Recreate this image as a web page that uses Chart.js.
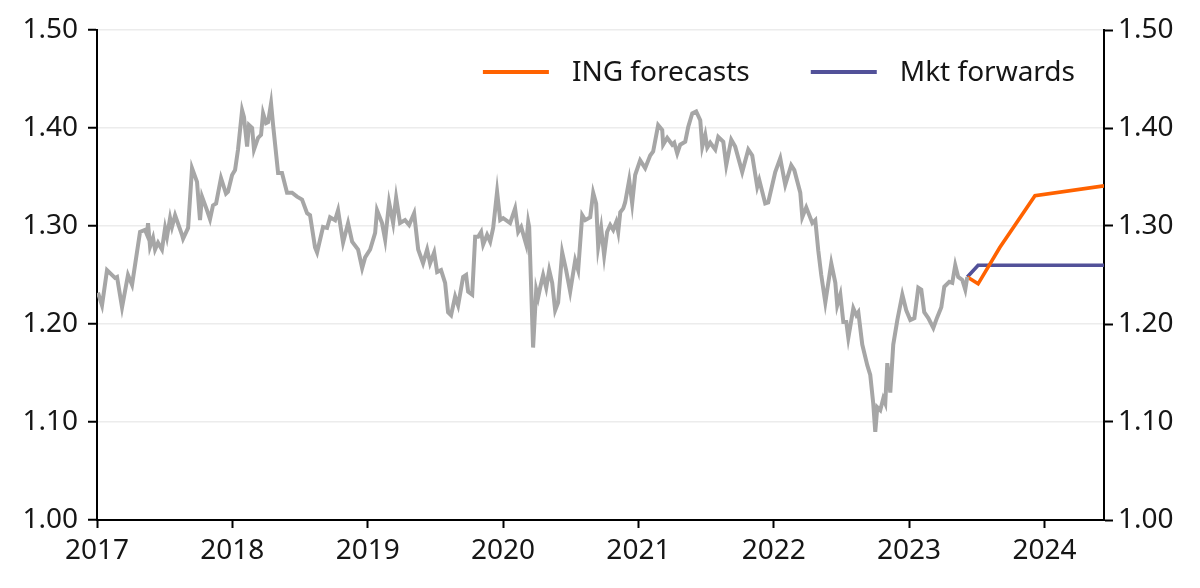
<!DOCTYPE html>
<html>
<head>
<meta charset="utf-8">
<script src="https://cdn.jsdelivr.net/npm/chart.js@4.4.0/dist/chart.umd.min.js"></script>
<style>
  html, body { margin: 0; padding: 0; background: #ffffff; }
  #wrap { position: relative; width: 1200px; height: 588px; }
</style>
</head>
<body>
<div id="wrap"><canvas id="c"></canvas></div>
<script>
// ---- Data (decimal years) ----
const spotDates = [
  2017.007,2017.037,2017.074,2017.133,2017.148,2017.185,2017.229,2017.259,2017.318,2017.355,
  2017.370,2017.377,2017.392,2017.414,2017.429,2017.451,2017.480,2017.503,2017.517,2017.540,
  2017.554,2017.577,2017.628,2017.636,2017.673,2017.702,2017.739,2017.761,2017.776,2017.813,
  2017.835,2017.857,2017.880,2017.916,2017.953,2017.968,2017.998,2018.020,2018.042,2018.072,
  2018.086,2018.109,2018.123,2018.146,2018.160,2018.190,2018.212,2018.227,2018.249,2018.264,
  2018.286,2018.301,2018.338,2018.367,2018.404,2018.441,
  2018.478,2018.515,2018.552,2018.574,2018.611,2018.626,2018.670,2018.700,2018.722,2018.759,
  2018.781,2018.818,2018.855,2018.885,2018.929,2018.959,2018.981,2019.018,2019.055,2019.069,
  2019.106,2019.129,2019.158,2019.188,2019.210,2019.239,2019.276,2019.306,2019.343,2019.373,
  2019.409,2019.439,2019.461,2019.491,2019.513,2019.542,2019.572,2019.594,2019.616,2019.646,
  2019.668,2019.705,2019.727,2019.742,2019.772,2019.794,2019.816,2019.838,2019.853,2019.882,
  2019.905,2019.927,2019.956,2019.979,2020.001,2020.052,2020.089,2020.112,2020.134,2020.171,
  2020.186,2020.193,2020.222,2020.245,2020.259,2020.274,2020.296,2020.319,2020.341,2020.363,
  2020.385,2020.407,2020.437,2020.466,2020.496,2020.533,2020.555,2020.585,2020.607,2020.644,
  2020.666,2020.688,2020.703,2020.725,2020.747,2020.769,2020.792,2020.814,2020.836,2020.851,
  2020.866,2020.888,2020.902,2020.932,2020.954,2020.976,
  2021.013,2021.050,2021.087,2021.109,2021.146,2021.176,2021.183,2021.213,2021.250,2021.265,
  2021.287,2021.309,2021.346,2021.368,2021.398,2021.427,2021.457,2021.472,2021.494,2021.509,
  2021.531,2021.568,2021.590,2021.627,2021.649,2021.686,2021.715,2021.767,2021.812,2021.841,
  2021.878,2021.893,2021.937,2021.959,2022.011,2022.048,2022.085,2022.129,2022.152,2022.196,
  2022.211,2022.240,2022.285,2022.307,2022.329,2022.351,2022.381,
  2022.425,2022.455,2022.469,2022.492,2022.514,2022.536,2022.551,2022.588,2022.610,2022.625,
  2022.654,2022.691,2022.713,2022.735,2022.750,2022.765,2022.787,2022.809,2022.824,2022.839,
  2022.861,2022.883,2022.913,2022.950,2022.979,2023.009,2023.039,2023.068,2023.090,2023.112,
  2023.142,2023.179,2023.208,2023.238,2023.260,2023.297,2023.319,2023.341,2023.363,2023.393,
  2023.415,2023.430
];
const spotValues = [
  1.232,1.219,1.255,1.247,1.248,1.217,1.250,1.240,1.294,1.296,
  1.291,1.303,1.279,1.288,1.276,1.283,1.276,1.298,1.289,1.308,
  1.299,1.311,1.291,1.287,1.298,1.359,1.345,1.306,1.330,1.316,
  1.307,1.321,1.323,1.349,1.333,1.335,1.352,1.357,1.378,1.418,
  1.411,1.381,1.403,1.400,1.378,1.390,1.393,1.415,1.405,1.406,
  1.425,1.403,1.354,1.354,1.334,1.334,
  1.330,1.327,1.313,1.311,1.278,1.273,1.299,1.298,1.309,1.306,
  1.316,1.283,1.303,1.284,1.276,1.257,1.268,1.276,1.293,1.316,
  1.303,1.286,1.324,1.303,1.329,1.303,1.306,1.301,1.313,1.276,
  1.262,1.276,1.262,1.273,1.253,1.255,1.242,1.212,1.209,1.228,
  1.219,1.248,1.250,1.233,1.230,1.289,1.289,1.294,1.281,1.291,
  1.284,1.298,1.335,1.306,1.308,1.303,1.318,1.294,1.299,1.281,
  1.304,1.299,1.176,1.235,1.227,1.237,1.250,1.237,1.255,1.242,
  1.214,1.222,1.273,1.255,1.233,1.265,1.255,1.311,1.306,1.309,
  1.334,1.323,1.279,1.298,1.270,1.294,1.301,1.296,1.304,1.294,
  1.314,1.318,1.324,1.347,1.323,1.352,
  1.367,1.359,1.372,1.376,1.403,1.398,1.383,1.390,1.383,1.385,
  1.374,1.383,1.386,1.401,1.415,1.417,1.408,1.381,1.393,1.380,
  1.385,1.378,1.391,1.386,1.362,1.388,1.381,1.355,1.378,1.372,
  1.340,1.347,1.323,1.324,1.355,1.369,1.342,1.362,1.357,1.334,
  1.309,1.319,1.303,1.306,1.275,1.250,1.222,
  1.262,1.242,1.219,1.230,1.202,1.202,1.186,1.216,1.209,1.212,
  1.179,1.158,1.148,1.119,1.090,1.115,1.112,1.124,1.119,1.160,
  1.130,1.179,1.204,1.230,1.214,1.204,1.206,1.237,1.235,1.212,
  1.206,1.196,1.207,1.217,1.238,1.243,1.242,1.260,1.248,1.245,
  1.235,1.248
];
const ingDates   = [2023.430, 2023.510, 2023.670, 2023.930, 2024.440];
const ingValues  = [1.248, 1.241, 1.278, 1.331, 1.341];
const fwdDates   = [2023.430, 2023.510, 2023.670, 2023.930, 2024.440];
const fwdValues  = [1.248, 1.260, 1.260, 1.260, 1.260];
const seriesLabels = ['GBP/USD', 'ING forecasts', 'Mkt forwards'];
const xTickYears = [2017, 2018, 2019, 2020, 2021, 2022, 2023, 2024];
const yTickValues = [1.00, 1.10, 1.20, 1.30, 1.40, 1.50];
const xMin = 2017, xMax = 2024.44, yMin = 1.00, yMax = 1.50;

const toPts = (xs, ys) => xs.map((x, i) => ({ x: x, y: ys[i] }));

const FONT = '"Noto Sans", "DejaVu Sans", sans-serif';
const TXT = '#161616';

const legendPlugin = {
  id: 'insideLegend',
  afterDraw(chart) {
    const ctx = chart.ctx;
    const area = chart.chartArea;
    const items = chart.data.datasets.filter(d => d.showInLegend);
    ctx.save();
    ctx.font = '28px ' + FONT;
    ctx.textBaseline = 'middle';
    const lineW = 66, gap = 23, itemGap = 61;
    const widths = items.map(d => lineW + gap + ctx.measureText(d.label).width);
    const total = widths.reduce((a, b) => a + b, 0) + itemGap * (items.length - 1);
    let x = area.right - 29 - total;
    const y = area.top + 42;
    items.forEach((d, i) => {
      ctx.strokeStyle = d.borderColor;
      ctx.lineWidth = 4;
      ctx.beginPath();
      ctx.moveTo(x, y);
      ctx.lineTo(x + lineW, y);
      ctx.stroke();
      ctx.fillStyle = TXT;
      ctx.fillText(d.label, x + lineW + gap, y + 1);
      x += widths[i] + itemGap;
    });
    ctx.restore();
  }
};

new Chart(document.getElementById('c'), {
  type: 'line',
  data: {
    datasets: [
      {
        label: seriesLabels[0],
        data: toPts(spotDates, spotValues),
        borderColor: '#a6a6a6',
        borderWidth: 4,
        pointRadius: 0,
        tension: 0,
        showInLegend: false
      },
      {
        label: seriesLabels[1],
        data: toPts(ingDates, ingValues),
        borderColor: '#ff6200',
        borderWidth: 3.6,
        pointRadius: 0,
        tension: 0,
        showInLegend: true
      },
      {
        label: seriesLabels[2],
        data: toPts(fwdDates, fwdValues),
        borderColor: '#525199',
        borderWidth: 3.6,
        pointRadius: 0,
        tension: 0,
        showInLegend: true
      }
    ]
  },
  options: {
    responsive: true,
    maintainAspectRatio: false,
    animation: false,
    layout: { padding: { top: 30, left: 0, right: 0, bottom: 0 } },
    plugins: {
      legend: { display: false },
      tooltip: { enabled: false }
    },
    scales: {
      x: {
        type: 'linear',
        min: xMin,
        max: xMax,
        afterBuildTicks: (s) => { s.ticks = xTickYears.map(v => ({ value: v })); },
        afterFit: (s) => { s.height = 68; },
        ticks: {
          autoSkip: false,
          maxRotation: 0,
          padding: 6,
          color: TXT,
          font: { family: FONT, size: 28 },
          callback: (v) => String(v)
        },
        grid: {
          drawOnChartArea: false,
          drawTicks: true,
          tickLength: 8,
          tickColor: '#000',
          tickWidth: 2
        },
        border: { display: true, color: '#000', width: 2 }
      },
      y: {
        type: 'linear',
        position: 'left',
        min: yMin,
        max: yMax,
        afterBuildTicks: (s) => { s.ticks = yTickValues.map(v => ({ value: v })); },
        afterFit: (s) => { s.width = 97; },
        ticks: {
          padding: 10,
          color: TXT,
          font: { family: FONT, size: 28 },
          callback: (v) => Number(v).toFixed(2)
        },
        grid: {
          color: '#ececec',
          lineWidth: 1.5,
          drawTicks: true,
          tickLength: 9,
          tickColor: '#000',
          tickWidth: 2
        },
        border: { display: true, color: '#000', width: 2 }
      },
      y2: {
        type: 'linear',
        position: 'right',
        min: yMin,
        max: yMax,
        afterBuildTicks: (s) => { s.ticks = yTickValues.map(v => ({ value: v })); },
        afterFit: (s) => { s.width = 96; },
        ticks: {
          padding: 5,
          color: TXT,
          font: { family: FONT, size: 28 },
          callback: (v) => Number(v).toFixed(2)
        },
        grid: {
          drawOnChartArea: false,
          drawTicks: true,
          tickLength: 9,
          tickColor: '#000',
          tickWidth: 2
        },
        border: { display: true, color: '#000', width: 2 }
      }
    }
  },
  plugins: [legendPlugin]
});
</script>
</body>
</html>
